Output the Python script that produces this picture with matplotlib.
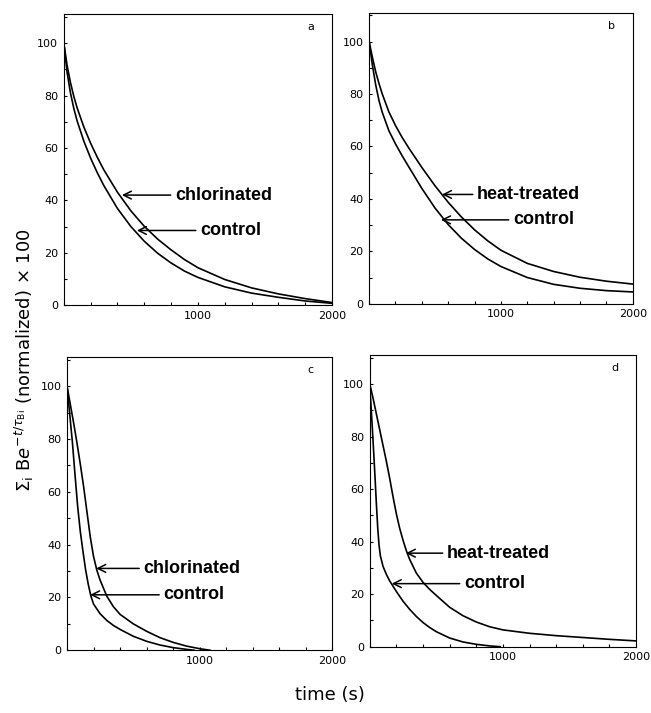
import numpy as np
import matplotlib
matplotlib.use("Agg")
import matplotlib.pyplot as plt
from matplotlib.ticker import MultipleLocator

# ---- data (time in s, normalized signal x100) ----
t_a = [0, 25, 50, 75, 100, 150, 200, 250, 300, 400, 500, 600, 700, 800, 900, 1000, 1200, 1400, 1600, 1800, 2000]
y_a_chl = [100, 91.4, 84.9, 79.6, 75.2, 67.9, 61.8, 56.4, 51.5, 43.1, 36.0, 30.1, 25.2, 21.1, 17.4, 14.3, 9.8, 6.6, 4.3, 2.5, 1.0]
y_a_ctl = [100, 88.7, 80.9, 75.0, 70.2, 62.5, 56.1, 50.5, 45.5, 36.9, 30.0, 24.4, 19.8, 16.1, 13.0, 10.6, 7.0, 4.6, 3.0, 1.6, 0.7]

t_b = [0, 25, 50, 75, 100, 150, 200, 250, 300, 400, 500, 600, 700, 800, 900, 1000, 1200, 1400, 1600, 1800, 2000]
y_b_heat = [100, 94, 88.5, 84, 80, 73.2, 68.0, 63.5, 59.5, 52, 45, 38.7, 33.1, 28.2, 24, 20.4, 15.4, 12.3, 10.1, 8.6, 7.5]
y_b_ctl = [100, 91, 83.5, 77.5, 73, 66, 61, 56.5, 52.3, 44, 36.5, 30.2, 25, 20.7, 17.1, 14.2, 10, 7.4, 5.9, 5.0, 4.5]

t_c_chl = [0, 25, 50, 75, 100, 125, 150, 175, 200, 225, 250, 300, 350, 400, 500, 600, 700, 800, 900, 1000, 1080]
y_c_chl = [100, 93, 86, 78.5, 70.5, 62, 52.5, 43, 35.5, 30.3, 26.5, 20.5, 16.5, 13.6, 10, 7.2, 4.8, 3, 1.6, 0.6, 0]
t_c_ctl = [0, 20, 40, 60, 80, 100, 120, 140, 160, 180, 200, 250, 300, 350, 400, 500, 600, 700, 800, 900, 960]
y_c_ctl = [100, 89.5, 79, 66.5, 54.5, 45, 37.5, 30.5, 25, 20.5, 17.5, 13.8, 11.3, 9.4, 7.9, 5.3, 3.4, 2.0, 1.0, 0.35, 0]

t_d_heat = [0, 25, 50, 75, 100, 125, 150, 175, 200, 225, 250, 275, 300, 350, 400, 450, 500, 600, 700, 800, 900, 1000, 1200, 1400, 1600, 1800, 2000]
y_d_heat = [100, 94.5, 88.5, 82.5, 76.5, 70.5, 64, 57, 50.5, 45, 40.5, 36.5, 33.2, 28, 24.5, 21.8, 19.5, 15.0, 11.8, 9.4, 7.6, 6.4, 5.1, 4.2, 3.5, 2.8, 2.2]
t_d_ctl = [0, 10, 20, 30, 40, 50, 60, 70, 80, 100, 125, 150, 175, 200, 250, 300, 350, 400, 450, 500, 600, 700, 800, 900, 980]
y_d_ctl = [100, 91, 82.5, 73.5, 64, 54, 45, 38.5, 34.5, 30.5, 27.5, 25, 23, 21, 17.3, 14.2, 11.5, 9.2, 7.3, 5.7, 3.3, 1.8, 0.9, 0.3, 0]

panels = [
    # letter, treated name, (t, y) treated, (t, y) control, arrow head / text start
    ("a", "chlorinated", (t_a, y_a_chl), (t_a, y_a_ctl),
     [(433, 42), (828, 42)], [(545, 28.5), (1015, 28.5)]),
    ("b", "heat-treated", (t_b, y_b_heat), (t_b, y_b_ctl),
     [(553, 41.7), (818, 41.7)], [(545, 32), (1091, 32)]),
    ("c", "chlorinated", (t_c_chl, y_c_chl), (t_c_ctl, y_c_ctl),
     [(220, 31), (576, 31)], [(174, 21), (727, 21)]),
    ("d", "heat-treated", (t_d_heat, y_d_heat), (t_d_ctl, y_d_ctl),
     [(271, 35.6), (579, 35.6)], [(165, 24), (707, 24)]),
]

positions = [
    [0.098, 0.572, 0.412, 0.408],
    [0.567, 0.574, 0.405, 0.408],
    [0.103, 0.088, 0.407, 0.411],
    [0.568, 0.093, 0.409, 0.409],
]

fig = plt.figure(figsize=(6.51, 7.13), dpi=100)
label_font = ["Liberation Sans", "DejaVu Sans"]

for (letter, name, treated, control, arr_t, arr_c), pos in zip(panels, positions):
    ax = fig.add_axes(pos)
    ax.plot(treated[0], treated[1], color="black", lw=1.2, solid_joinstyle="round")
    ax.plot(control[0], control[1], color="black", lw=1.2, solid_joinstyle="round")
    ax.set_xlim(0, 2000)
    ax.set_ylim(0, 111)

    ax.set_yticks([0, 20, 40, 60, 80, 100])
    ax.set_xticks([1000, 2000])
    ax.xaxis.set_minor_locator(MultipleLocator(200))
    ax.yaxis.set_minor_locator(MultipleLocator(10))
    ax.tick_params(which="both", direction="in", length=2.5, width=0.8, labelsize=8, pad=4)
    for sp in ax.spines.values():
        sp.set_linewidth(0.8)

    ax.text(0.92, 0.955, letter, transform=ax.transAxes, fontsize=8, ha="center", va="center")

    for (head, start), txt in [(arr_t, name), (arr_c, "control")]:
        ax.annotate(txt, xy=head, xytext=start, ha="left", va="center",
                    fontsize=13, fontweight="bold", family=label_font,
                    arrowprops=dict(arrowstyle="->", lw=1.1, color="black",
                                    shrinkA=1, shrinkB=0, mutation_scale=14))

fig.text(0.038, 0.495, r"$\Sigma_{\rm i}\ \mathrm{B}e^{-t/\tau_{\rm Bi}}$ (normalized) × 100",
         rotation=90, ha="center", va="center", fontsize=13)
fig.text(0.507, 0.025, "time (s)", ha="center", va="center", fontsize=13)

fig.savefig("out.png", dpi=100)
